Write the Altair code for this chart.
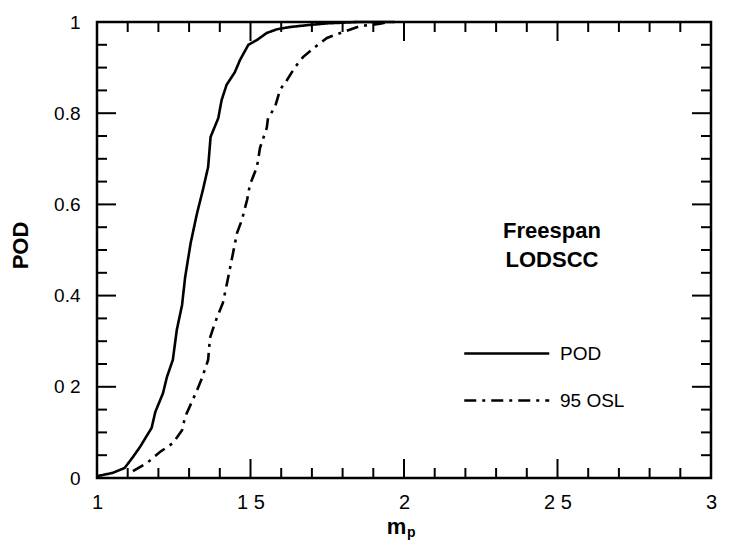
import json
import altair as alt
import pandas as pd

# ---------------- data ----------------
pod_x = [1.00, 1.05, 1.09, 1.117, 1.14, 1.178, 1.19, 1.215, 1.228, 1.247, 1.26, 1.277,
         1.287, 1.305, 1.326, 1.345, 1.362, 1.370, 1.395, 1.406, 1.422, 1.449, 1.466,
         1.493, 1.52, 1.553, 1.586, 1.629, 1.684, 1.75, 1.85, 1.97]
pod_y = [0.004, 0.011, 0.022, 0.046, 0.068, 0.11, 0.145, 0.186, 0.222, 0.259, 0.325, 0.379,
         0.44, 0.515, 0.581, 0.632, 0.682, 0.748, 0.789, 0.829, 0.862, 0.89, 0.917,
         0.95, 0.96, 0.976, 0.984, 0.989, 0.993, 0.997, 1.0, 1.0]

osl_x = [1.117, 1.163, 1.205, 1.248, 1.277, 1.287, 1.309, 1.326, 1.342, 1.362, 1.368, 1.384,
         1.41, 1.425, 1.443, 1.456, 1.472, 1.489, 1.498, 1.521, 1.531, 1.553, 1.557, 1.58,
         1.596, 1.619, 1.645, 1.671, 1.71, 1.749, 1.801, 1.857, 1.922, 1.95]
osl_y = [0.015, 0.033, 0.057, 0.077, 0.105, 0.134, 0.167, 0.193, 0.219, 0.259, 0.307, 0.34,
         0.384, 0.432, 0.493, 0.537, 0.566, 0.61, 0.643, 0.682, 0.724, 0.768, 0.789, 0.814,
         0.851, 0.873, 0.901, 0.923, 0.945, 0.965, 0.978, 0.991, 0.996, 1.0]

series_names = ["POD", "95 OSL"]

x_label_values = [1, 1.5, 2, 2.5, 3]
x_label_texts = ["1", "1 5", "2", "2 5", "3"]
y_label_values = [0, 0.2, 0.4, 0.6, 0.8, 1]
y_label_texts = ["0", "0 2", "0.4", "0.6", "0.8", "1"]

x_major_ticks = [1.5, 2.0, 2.5]
x_minor_ticks = [1.1, 1.2, 1.3, 1.4, 1.6, 1.7, 1.8, 1.9, 2.1, 2.2, 2.3, 2.4,
                 2.6, 2.7, 2.8, 2.9]
y_major_ticks = [0.2, 0.4, 0.6, 0.8]
y_minor_ticks = [0.05, 0.1, 0.15, 0.25, 0.3, 0.35, 0.45, 0.5, 0.55, 0.65, 0.7, 0.75,
                 0.85, 0.9, 0.95]

annotation_lines = ["Freespan", "LODSCC"]
x_title_main = "m"
x_title_sub = "p"
y_title = "POD"

# ---------------- layout / style ----------------
W, H = 614, 456
FONT = "Liberation Sans"
MAJOR, MINOR = 19, 10
TICK_W = 2

df = pd.concat([
    pd.DataFrame({"x": pod_x, "y": pod_y, "series": series_names[0]}),
    pd.DataFrame({"x": osl_x, "y": osl_y, "series": series_names[1]}),
], ignore_index=True)

x_scale = alt.Scale(domain=[1, 3], nice=False, zero=False)
y_scale = alt.Scale(domain=[0, 1], nice=False, zero=False)

x_label_expr = f"{json.dumps(x_label_texts)}[indexof({json.dumps(x_label_values)}, datum.value)]"
y_label_expr = f"{json.dumps(y_label_texts)}[indexof({json.dumps(y_label_values)}, datum.value)]"

x_axis = alt.Axis(values=x_label_values, labelExpr=x_label_expr, ticks=False,
                  domain=False, grid=False, labelFont=FONT, labelFontSize=20,
                  labelColor="black", labelPadding=14, labelFlush=False,
                  title=x_title_main, titleFont=FONT, titleFontSize=22,
                  titleFontWeight="bold", titleColor="black",
                  titleX=299, titleY=55, titleBaseline="alphabetic",
                  titleAlign="center")
y_axis = alt.Axis(values=y_label_values, labelExpr=y_label_expr, ticks=False,
                  domain=False, grid=False, labelFont=FONT, labelFontSize=19,
                  labelColor="black", labelPadding=17, labelFlush=False,
                  labelBaseline="middle",
                  title=y_title, titleFont=FONT, titleFontSize=22,
                  titleFontWeight="bold", titleColor="black",
                  titleX=-77, titleY=223, titleAngle=270,
                  titleAlign="center", titleBaseline="middle")

lines = alt.Chart(df).mark_line(color="black", strokeWidth=2.6).encode(
    x=alt.X("x:Q", scale=x_scale, axis=x_axis),
    y=alt.Y("y:Q", scale=y_scale, axis=y_axis),
    strokeDash=alt.StrokeDash(
        "series:N",
        scale=alt.Scale(domain=series_names, range=[[1, 0], [12, 6, 3, 6]]),
        legend=alt.Legend(orient="none", legendX=366, legendY=309, title=None,
                          symbolType="M-1,0H3", symbolSize=1806, symbolStrokeWidth=2.5,
                          symbolStrokeColor="black", labelFont=FONT, labelFontSize=19,
                          labelColor="black", labelOffset=52, rowPadding=14, padding=0),
    ),
    order=alt.Order("x:Q"),
)


def tick_layer(values, channel, length, side):
    d = pd.DataFrame({"x": values} if channel == "x" else {"y": values})
    base = alt.Chart(d).mark_rule(color="black", strokeWidth=TICK_W)
    if channel == "y":
        enc = {"y": alt.Y("y:Q", scale=y_scale, axis=y_axis)}
        if side == "left":
            enc.update(x=alt.value(0), x2=alt.value(length))
        else:
            enc.update(x=alt.value(W - length), x2=alt.value(W))
    else:
        enc = {"x": alt.X("x:Q", scale=x_scale, axis=x_axis)}
        if side == "bottom":
            enc.update(y=alt.value(H - length), y2=alt.value(H))
        else:
            enc.update(y=alt.value(0), y2=alt.value(length))
    return base.encode(**enc)


ticks = [
    tick_layer(y_major_ticks, "y", MAJOR, "left"),
    tick_layer(y_minor_ticks, "y", MINOR, "left"),
    tick_layer(y_major_ticks, "y", MAJOR, "right"),
    tick_layer(y_minor_ticks, "y", MINOR, "right"),
    tick_layer(x_major_ticks, "x", MAJOR, "bottom"),
    tick_layer(x_minor_ticks, "x", MINOR, "bottom"),
    tick_layer(x_major_ticks, "x", MAJOR, "top"),
    tick_layer(x_minor_ticks, "x", MINOR, "top"),
]

annot1 = alt.Chart().mark_text(text=annotation_lines[0], font=FONT, fontSize=22,
                               fontWeight="bold", color="black", align="center",
                               baseline="alphabetic").encode(
    x=alt.value(455), y=alt.value(216))
annot2 = alt.Chart().mark_text(text=annotation_lines[1], font=FONT, fontSize=22,
                               fontWeight="bold", color="black", align="center",
                               baseline="alphabetic").encode(
    x=alt.value(455), y=alt.value(245))
sub = alt.Chart().mark_text(text=x_title_sub, font=FONT, fontSize=14,
                            fontWeight="bold", color="black", align="left",
                            baseline="alphabetic").encode(
    x=alt.value(310), y=alt.value(515))

chart = alt.layer(lines, *ticks, annot1, annot2, sub).properties(
    width=W, height=H,
    autosize=alt.AutoSizeParams(type="none"),
    padding={"left": 89, "top": 14, "right": 21, "bottom": 66},
    background="white",
).configure_view(stroke="black", strokeWidth=2.5)

chart.save("out.html", embed_options={"renderer": "svg", "actions": False})
